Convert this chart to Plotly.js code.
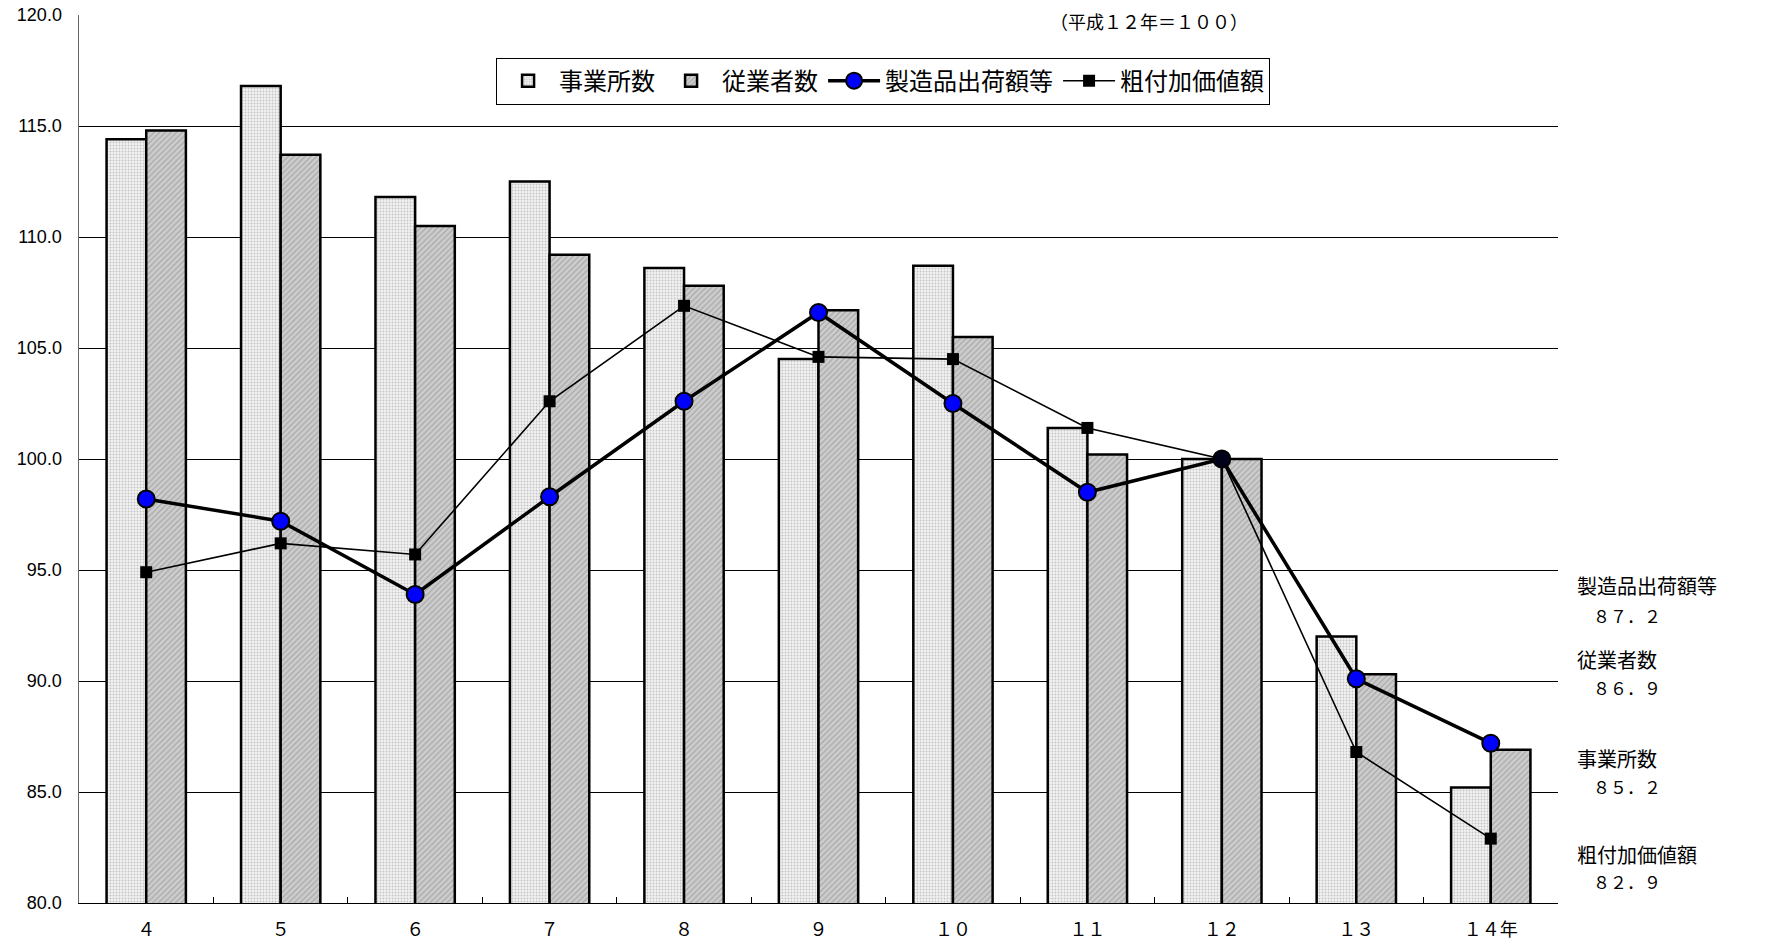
<!DOCTYPE html>
<html>
<head>
<meta charset="utf-8">
<script src="https://cdn.plot.ly/plotly-3.0.1.min.js"></script>
<style>html,body{margin:0;padding:0;background:#fff;}#chart{width:1767px;height:944px;}</style>
</head>
<body>
<div id="chart"></div>
<script>
// ---- data ----
const categories = ["４", "５", "６", "７", "８", "９", "１０", "１１", "１２", "１３", "１４年"];
const establishments = [114.4, 116.8, 111.8, 112.5, 108.6, 104.5, 108.7, 101.4, 100.0, 92.0, 85.2];   // 事業所数
const employees      = [114.8, 113.7, 110.5, 109.2, 107.8, 106.7, 105.5, 100.2, 100.0, 90.3, 86.9];   // 従業者数
const shipments      = [98.2, 97.2, 93.9, 98.3, 102.6, 106.6, 102.5, 98.5, 100.0, 90.1, 87.2];        // 製造品出荷額等
const valueAdded     = [94.9, 96.2, 95.7, 102.6, 106.9, 104.6, 104.5, 101.4, 100.0, 86.8, 82.9];      // 粗付加価値額
const seriesNames = ["事業所数", "従業者数", "製造品出荷額等", "粗付加価値額"];
const yTicks = [80, 85, 90, 95, 100, 105, 110, 115, 120];

const CJK = '"Noto Sans CJK JP", "Noto Sans", sans-serif';
const toFull = s => String(s).replace(/[0-9.]/g, c => c === '.' ? '．' : String.fromCharCode(c.charCodeAt(0) + 0xFEE0));
const fmt = v => toFull(v.toFixed(1));

const traces = [
  {
    type: 'bar', name: seriesNames[0], x: categories, y: establishments,
    marker: {color: '#eeeeee', line: {color: '#000', width: 2.5},
             pattern: {shape: '.', fgcolor: '#c4c4c4', bgcolor: '#f2f2f2', size: 3, solidity: 0.3}},
    hoverinfo: 'x+y'
  },
  {
    type: 'bar', name: seriesNames[1], x: categories, y: employees,
    marker: {color: '#c4c4c4', line: {color: '#000', width: 2.5},
             pattern: {shape: '/', fgcolor: '#a8a8a8', bgcolor: '#cdcdcd', size: 4, solidity: 0.3}},
    hoverinfo: 'x+y'
  },
  {
    type: 'scatter', mode: 'lines+markers', name: seriesNames[3], x: categories, y: valueAdded,
    line: {color: '#000', width: 1.6},
    marker: {symbol: 'square', size: 12, color: '#000'}
  },
  {
    type: 'scatter', mode: 'lines+markers', name: seriesNames[2], x: categories, y: shipments,
    line: {color: '#000', width: 3.5},
    marker: {symbol: 'circle', size: 17,
             color: categories.map((c, i) => i === 8 ? '#000018' : '#0000ff'),
             line: {color: '#000', width: 2}}
  }
];

const lastIdx = categories.length - 1;
const rightLabels = [
  {name: seriesNames[2], val: shipments[lastIdx], y1: 0.357, y2: 0.324},
  {name: seriesNames[1], val: employees[lastIdx], y1: 0.274, y2: 0.243},
  {name: seriesNames[0], val: establishments[lastIdx], y1: 0.163, y2: 0.131},
  {name: seriesNames[3], val: valueAdded[lastIdx], y1: 0.055, y2: 0.024}
];
const annotations = [
  {xref: 'paper', yref: 'paper', x: 0.7235, y: 0.993, xanchor: 'center', yanchor: 'middle',
   text: '（平成１２年＝１００）', showarrow: false, font: {family: CJK, size: 18, color: '#000'}}
];
rightLabels.forEach(r => {
  annotations.push({xref: 'paper', yref: 'paper', x: 1.0115, y: r.y1, xanchor: 'left', yanchor: 'middle',
    text: r.name, showarrow: false, font: {family: CJK, size: 20, color: '#000'}});
  annotations.push({xref: 'paper', yref: 'paper', x: 1.022, y: r.y2, xanchor: 'left', yanchor: 'middle',
    text: fmt(r.val), showarrow: false, font: {family: CJK, size: 17, color: '#000'}});
});

const layout = {
  width: 1767, height: 944,
  margin: {l: 79, r: 209, t: 15, b: 41},
  paper_bgcolor: '#fff', plot_bgcolor: '#fff',
  barmode: 'group', bargap: 0.41, bargroupgap: 0,
  showlegend: true,
  legend: {orientation: 'h', x: 0.282, y: 0.952, xanchor: 'left', yanchor: 'top',
           bordercolor: '#000', borderwidth: 1, bgcolor: '#fff',
           font: {family: CJK, size: 24, color: '#000'}, traceorder: 'normal',
           itemwidth: 52, tracegroupgap: 0},
  xaxis: {
    type: 'category', range: [-0.5, categories.length - 0.5],
    showline: true, linecolor: '#000', linewidth: 1,
    ticks: 'inside', tickson: 'boundaries', ticklen: 6, tickcolor: '#000',
    showgrid: false, zeroline: false,
    tickfont: {family: CJK, size: 18, color: '#000'}, ticklabelstandoff: 10
  },
  yaxis: {
    range: [80, 120], tickvals: yTicks, tickformat: '.1f',
    showline: true, linecolor: '#666', linewidth: 1.5,
    ticks: 'inside', ticklen: 7, tickcolor: '#000',
    showgrid: true, gridcolor: '#000', gridwidth: 1, zeroline: false,
    tickfont: {family: '"Liberation Sans", Arial, sans-serif', size: 18, color: '#000'},
    ticklabelstandoff: 12
  },
  annotations: annotations
};

// legend order: 事業所数, 従業者数, 製造品出荷額等, 粗付加価値額
traces[0].legendrank = 1; traces[1].legendrank = 2; traces[3].legendrank = 3; traces[2].legendrank = 4;

Plotly.newPlot('chart', traces, layout, {displayModeBar: false, staticPlot: true});
</script>
</body>
</html>
